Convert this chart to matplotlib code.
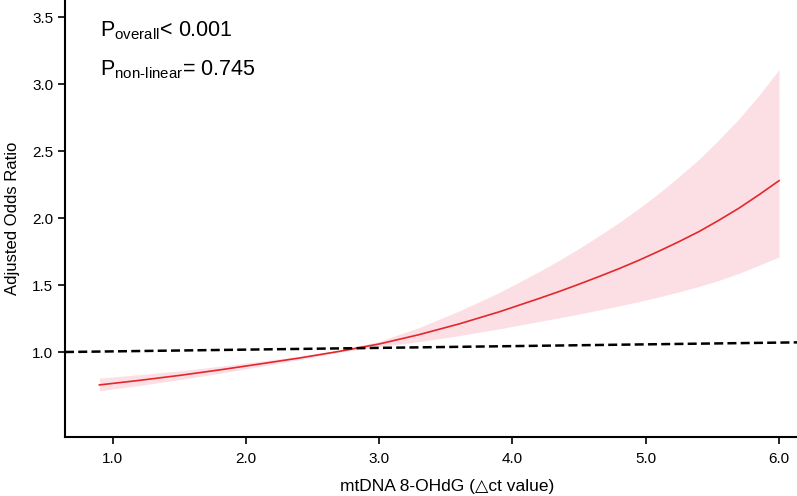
import matplotlib
matplotlib.use("Agg")
import matplotlib.pyplot as plt

# values
x_vals = [0.9, 1.2, 1.5, 1.8, 2.1, 2.4, 2.7, 3.0, 3.3, 3.6,
          3.9, 4.05, 4.2, 4.35, 4.5, 4.65, 4.8, 4.95, 5.1, 5.25, 5.4, 5.55, 5.7, 5.85, 6.0]
or_vals = [0.754, 0.788, 0.825, 0.866, 0.910, 0.955, 1.005, 1.060, 1.130, 1.210,
           1.300, 1.350, 1.400, 1.452, 1.507, 1.564, 1.623, 1.686, 1.754, 1.825,
           1.900, 1.985, 2.075, 2.175, 2.280]
ci_upper = [0.805, 0.830, 0.859, 0.893, 0.930, 0.968, 1.012, 1.080, 1.183, 1.307,
            1.444, 1.522, 1.601, 1.685, 1.774, 1.869, 1.967, 2.074, 2.188, 2.311,
            2.440, 2.587, 2.743, 2.918, 3.110]
ci_lower = [0.710, 0.750, 0.793, 0.840, 0.891, 0.943, 0.998, 1.041, 1.078, 1.122,
            1.173, 1.201, 1.228, 1.256, 1.284, 1.314, 1.345, 1.377, 1.412, 1.450,
            1.490, 1.536, 1.588, 1.648, 1.710]
ref_x = [0.642, 6.135]
ref_y = [1.0, 1.072]

x_ticks = [1.0, 2.0, 3.0, 4.0, 5.0, 6.0]
y_ticks = [1.0, 1.5, 2.0, 2.5, 3.0, 3.5]

plt.rcParams["font.family"] = ["Liberation Sans", "DejaVu Sans"]
plt.rcParams["mathtext.fontset"] = "custom"
plt.rcParams["mathtext.rm"] = "Liberation Sans"

fig = plt.figure(figsize=(7.97, 4.96), dpi=100)
ax = fig.add_axes([65 / 797, 59 / 496, 1 - 65 / 797, 1 - 59 / 496])

ax.fill_between(x_vals, ci_lower, ci_upper, color="#FBDFE5", linewidth=0)
ax.plot(x_vals, or_vals, color="#E3272B", linewidth=1.2)
ax.plot(ref_x, ref_y, color="black", linewidth=1.8, dashes=(3.6, 1.7))

ax.set_xlim(0.642, 6.135)
ax.set_ylim(0.365, 3.63)
ax.set_xticks(x_ticks)
ax.set_xticklabels([f"{v:.1f}" for v in x_ticks])
ax.set_yticks(y_ticks)
ax.set_yticklabels([f"{v:.1f}" for v in y_ticks])

for side in ["top", "right"]:
    ax.spines[side].set_visible(False)
for side in ["left", "bottom"]:
    ax.spines[side].set_linewidth(1.5)
ax.tick_params(width=1.2, length=5, labelsize=11, colors="black")
ax.tick_params(axis="x", pad=6)

ax.set_xlabel("mtDNA 8-OHdG (\u25b3ct value)", fontsize=12.5)
ax.xaxis.set_label_coords(0.522, -0.095)
ax.set_ylabel("Adjusted Odds Ratio", fontsize=12)
ax.yaxis.set_label_coords(-0.061, 0.5)

fig.text(100 / 797, 1 - 36 / 496, r"$\mathregular{P_{overall}}$< 0.001", fontsize=15.5)
fig.text(100 / 797, 1 - 75 / 496, r"$\mathregular{P_{non\text{-}linear}}$= 0.745", fontsize=15.5)

fig.savefig("out.png", dpi=100)
